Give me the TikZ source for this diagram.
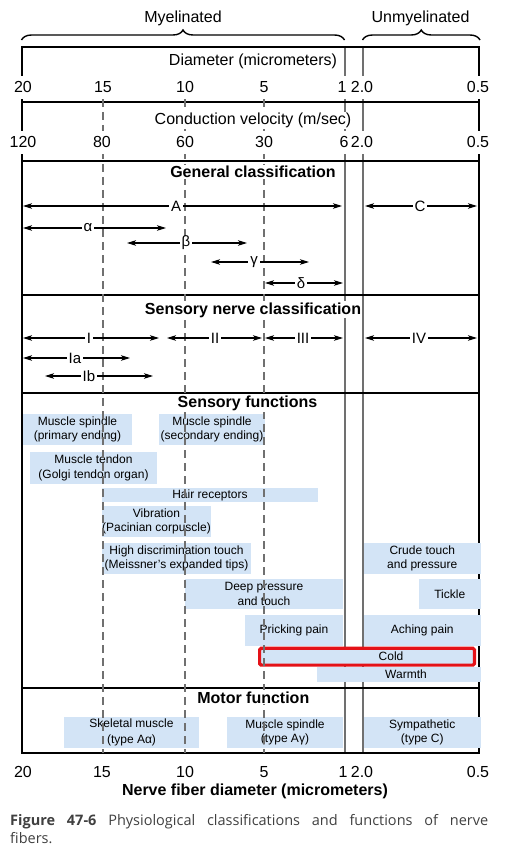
\documentclass[tikz,border=0pt]{standalone}
\usepackage{fontspec}
\setmainfont{Liberation Sans}
\newfontfamily\capfont{Open Sans}
\usetikzlibrary{arrows.meta, decorations.pathreplacing}
\definecolor{fnblue}{RGB}{211,228,246}
\definecolor{fibgray}{RGB}{112,112,112}
\definecolor{coldred}{RGB}{228,18,24}
\definecolor{capgray}{RGB}{64,64,64}

\begin{document}
\begin{tikzpicture}[>={Stealth[length=9pt,width=5.5pt,inset=2.2pt]}, x=1pt, y=-1pt,
    rule/.style={line width=2pt},
    fibline/.style={color=fibgray, line width=1.5pt},
    guide/.style={color=fibgray, line width=1.8pt, dash pattern=on 8pt off 5pt},
    rng/.style={<->, line width=1.1pt},
    brc/.style={decorate, decoration={brace, amplitude=10pt}, line width=1.4pt},
    txt/.style={anchor=base, inner sep=1pt, font=\fontsize{16}{19}\selectfont},
    num/.style={txt, fill=white, inner ysep=6pt},
    sechead/.style={txt, fill=white, font=\bfseries\fontsize{16}{19}\selectfont},
    alab/.style={fill=white, inner xsep=2pt, inner ysep=0pt, font=\fontsize{15}{18}\selectfont},
    fbox/.style={fill=fnblue, inner sep=0pt, align=center, font=\fontsize{12}{14.5}\selectfont}]
    \useasboundingbox (0,0) rectangle (530,850);

    \node[txt] (myel) at (183,23) {Myelinated};
    \node[txt] (unmyel) at (420.5,23) {Unmyelinated};
    \draw[brc] (21.5,40) -- (344.5,40);
    \draw[brc] (362.5,40) -- (480,40);

    \draw[fibline] (345,47) -- (345,753);
    \draw[fibline] (363,47) -- (363,753);
    \draw[rule] (22,47) rectangle (479,753);
    \foreach \y in {102,161,295,393,688}
        \draw[rule] (22,\y) -- (479,\y);

    \node[fbox, minimum width=109pt, minimum height=31pt] (spin1) at (77.5,429.5) {Muscle spindle\\(primary ending)};
    \node[fbox, minimum width=106pt, minimum height=31pt] (spin2) at (212,429.5) {Muscle spindle\\(secondary ending)};
    \node[fbox, minimum width=127pt, minimum height=32pt] (golgi) at (93.5,468) {Muscle tendon\\(Golgi tendon organ)};
    \node[fbox, minimum width=216pt, minimum height=14pt] (hair) at (210,495) {Hair receptors};
    \node[fbox, minimum width=109pt, minimum height=31pt] (vib) at (156.5,521.5) {Vibration\\(Pacinian corpuscle)};
    \node[fbox, minimum width=149pt, minimum height=31pt] (meis) at (176.5,558.5) {High discrimination touch\\(Meissner's expanded tips)};
    \node[fbox, minimum width=116.5pt, minimum height=31pt] (crude) at (422.25,558.5) {Crude touch\\and pressure};
    \node[fbox, minimum width=158pt, minimum height=30pt] (deep) at (264,594) {Deep pressure\\and touch};
    \node[fbox, minimum width=61.5pt, minimum height=30pt] (tickle) at (449.75,594) {Tickle};
    \node[fbox, minimum width=98pt, minimum height=31pt] (prick) at (294,630.5) {Pricking pain};
    \node[fbox, minimum width=116.5pt, minimum height=31pt] (ache) at (422.25,630.5) {Aching pain};
    \node[fbox, minimum width=163.5pt, minimum height=15pt] (warm) at (398.75,674.2) {};
    \node[fbox, fill=none] (warmtxt) at (406,674.3) {Warmth};
    \node[fbox, draw=coldred, line width=3.2pt, rounded corners=1.5pt, minimum width=214.8pt, minimum height=16.8pt] (cold) at (367,656.7) {};
    \node[fbox, fill=none] (coldtxt) at (391,656.7) {Cold};
    \node[fbox, minimum width=135pt, minimum height=31pt] (skel) at (131.5,732.5) {Skeletal muscle\\[2pt](type Aα)};
    \node[fbox, minimum width=116pt, minimum height=31pt] (mspin) at (285,732.5) {Muscle spindle\\(type Aγ)};
    \node[fbox, minimum width=116.5pt, minimum height=31pt] (symp) at (422.25,732.5) {Sympathetic\\(type C)};

    \foreach \x in {103,185,264}
        \draw[guide] (\x,99) -- (\x,753);

    \foreach \nm/\xa/\xb/\y/\xl/\t in {A/23/342/206/176/A, C/365/477/206/420/C,
        alpha/23/166/228/88/α, beta/127/247/243/186/β, gamma/211/309/262/254/γ, delta/265/343/283/301/δ,
        I/23/159/338/89/I, II/167/262/338/215/II, III/265/343/338/303/III, IV/365/477/338/419/IV,
        Ia/23/130/358/75/Ia, Ib/45/153/376/89/Ib} {
        \coordinate (\nm w) at (\xa,\y);
        \coordinate (\nm e) at (\xb,\y);
        \draw[rng] (\nm w) -- (\nm e);
        \node[alab] (\nm) at (\xl,\y) {\t};
    }

    \node[txt] (diam) at (253,65.7) {Diameter (micrometers)};
    \node[txt, fill=white] (velo) at (253,125) {Conduction velocity (m/sec)};
    \foreach \x/\t [count=\i] in {23/20,103/15,185/10,264/5,342/1,362/2.0,478/0.5}
        \node[num] (dia\i) at (\x,93) {\t};
    \foreach \x/\t [count=\i] in {23/120,102/80,185/60,264/30,344/6,362/2.0,478/0.5}
        \node[num] (vel\i) at (\x,148) {\t};
    \foreach \x/\t [count=\i] in {23/20,102/15,185/10,264/5,343/1,362/2.0,478/0.5}
        \node[num] (bot\i) at (\x,777.3) {\t};

    \node[sechead] (gencl) at (253,178) {General classification};
    \node[sechead] (sencl) at (253,314) {Sensory nerve classification};
    \node[sechead] (senfn) at (247.5,407.7) {Sensory functions};
    \node[sechead] (motfn) at (253.3,703) {Motor function};
    \node[txt, font=\bfseries\fontsize{16}{19}\selectfont] (xlab) at (255,795.7) {Nerve fiber diameter (micrometers)};

    \node[anchor=north west, inner sep=0pt, text width=478pt, align=justify, text=capgray,
        font=\capfont\fontsize{14.5}{18}\selectfont] (cap) at (10,814)
        {\textbf{Figure 47-6} Physiological classifications and functions of nerve\linebreak fibers.};
\end{tikzpicture}
\end{document}
